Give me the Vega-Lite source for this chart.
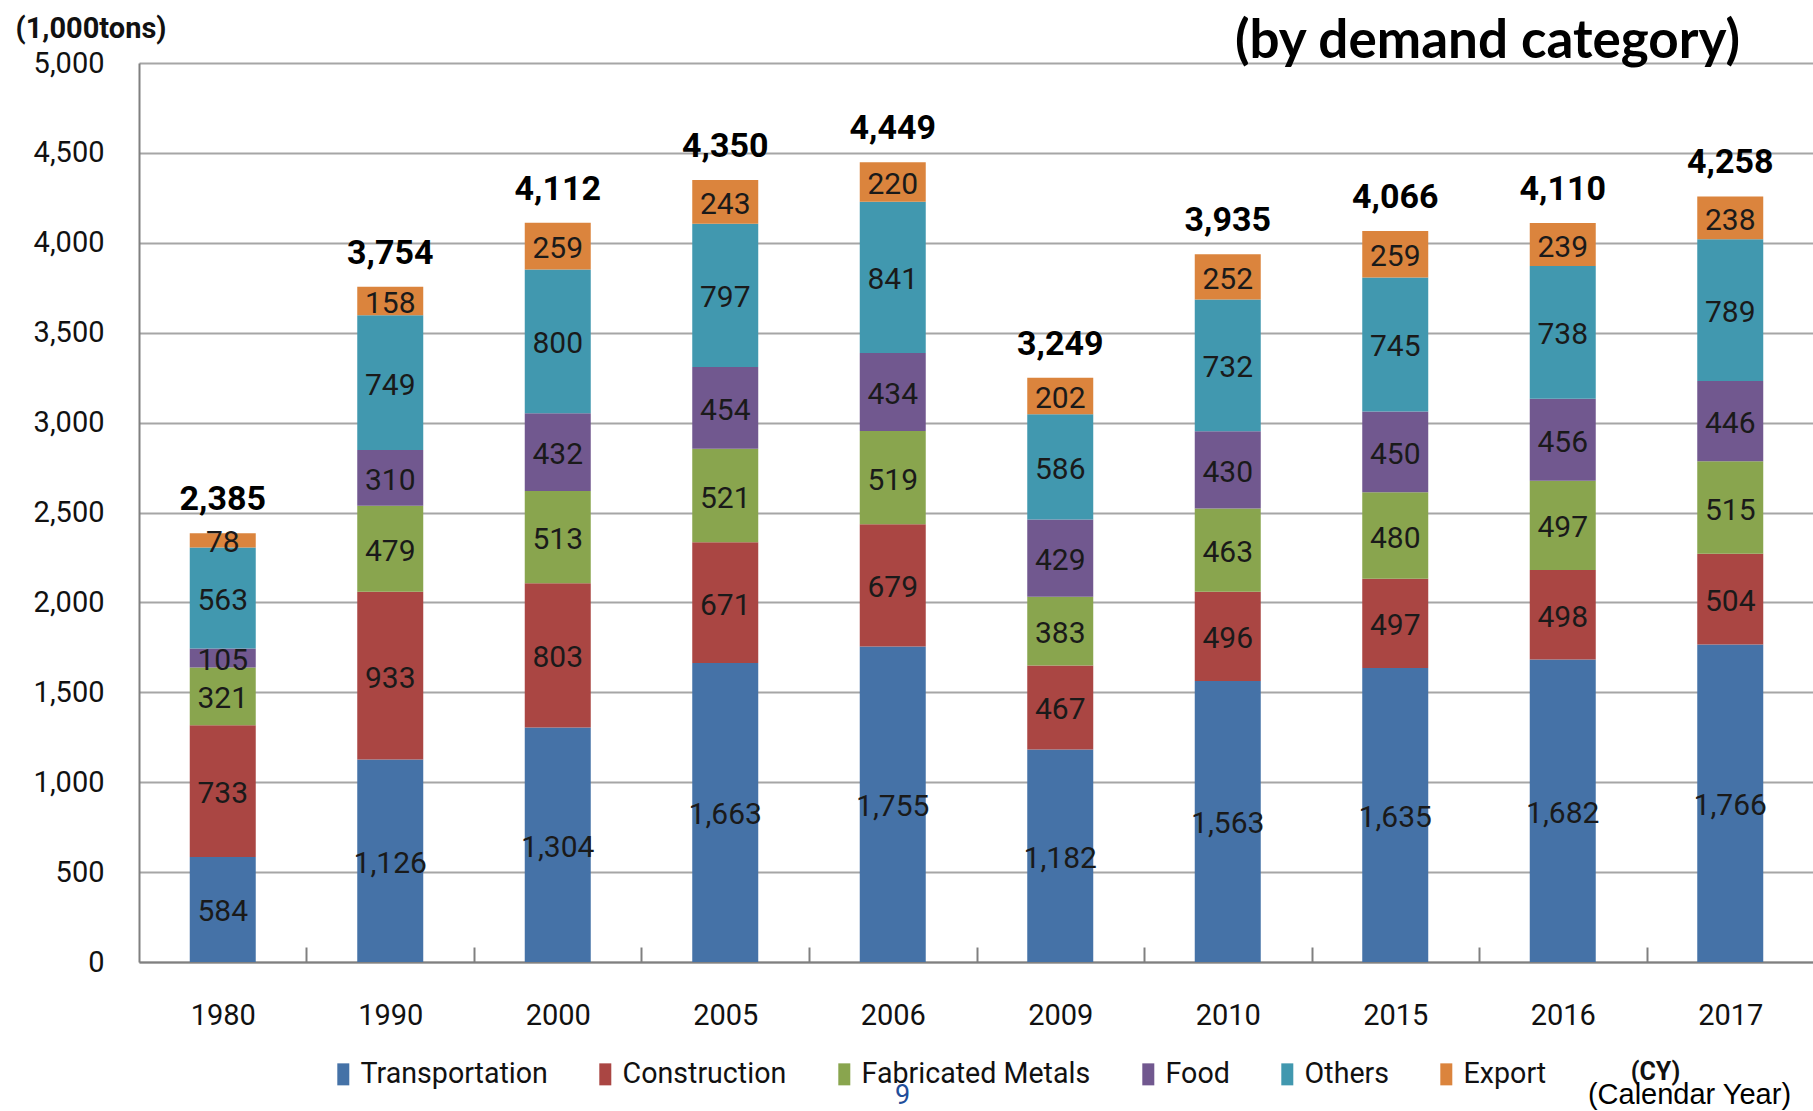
{
  "$schema": "https://vega.github.io/schema/vega-lite/v6.json",
  "width": 1675,
  "height": 899,
  "autosize": "none",
  "padding": {"left": 139, "top": 63, "right": 0, "bottom": 149},
  "background": "white",
  "title": {
    "text": "(by demand category)",
    "anchor": "start",
    "frame": "group",
    "dx": 1096,
    "offset": -97,
    "baseline": "alphabetic",
    "font": "Lato",
    "fontSize": 53,
    "fontWeight": "bold",
    "color": "#000000"
  },
  "datasets": {
    "segments": [
      {"year": "1980", "category": "Transportation", "kt": 584},
      {"year": "1980", "category": "Construction", "kt": 733},
      {"year": "1980", "category": "Fabricated Metals", "kt": 321},
      {"year": "1980", "category": "Food", "kt": 105},
      {"year": "1980", "category": "Others", "kt": 563},
      {"year": "1980", "category": "Export", "kt": 78},
      {"year": "1990", "category": "Transportation", "kt": 1126},
      {"year": "1990", "category": "Construction", "kt": 933},
      {"year": "1990", "category": "Fabricated Metals", "kt": 479},
      {"year": "1990", "category": "Food", "kt": 310},
      {"year": "1990", "category": "Others", "kt": 749},
      {"year": "1990", "category": "Export", "kt": 158},
      {"year": "2000", "category": "Transportation", "kt": 1304},
      {"year": "2000", "category": "Construction", "kt": 803},
      {"year": "2000", "category": "Fabricated Metals", "kt": 513},
      {"year": "2000", "category": "Food", "kt": 432},
      {"year": "2000", "category": "Others", "kt": 800},
      {"year": "2000", "category": "Export", "kt": 259},
      {"year": "2005", "category": "Transportation", "kt": 1663},
      {"year": "2005", "category": "Construction", "kt": 671},
      {"year": "2005", "category": "Fabricated Metals", "kt": 521},
      {"year": "2005", "category": "Food", "kt": 454},
      {"year": "2005", "category": "Others", "kt": 797},
      {"year": "2005", "category": "Export", "kt": 243},
      {"year": "2006", "category": "Transportation", "kt": 1755},
      {"year": "2006", "category": "Construction", "kt": 679},
      {"year": "2006", "category": "Fabricated Metals", "kt": 519},
      {"year": "2006", "category": "Food", "kt": 434},
      {"year": "2006", "category": "Others", "kt": 841},
      {"year": "2006", "category": "Export", "kt": 220},
      {"year": "2009", "category": "Transportation", "kt": 1182},
      {"year": "2009", "category": "Construction", "kt": 467},
      {"year": "2009", "category": "Fabricated Metals", "kt": 383},
      {"year": "2009", "category": "Food", "kt": 429},
      {"year": "2009", "category": "Others", "kt": 586},
      {"year": "2009", "category": "Export", "kt": 202},
      {"year": "2010", "category": "Transportation", "kt": 1563},
      {"year": "2010", "category": "Construction", "kt": 496},
      {"year": "2010", "category": "Fabricated Metals", "kt": 463},
      {"year": "2010", "category": "Food", "kt": 430},
      {"year": "2010", "category": "Others", "kt": 732},
      {"year": "2010", "category": "Export", "kt": 252},
      {"year": "2015", "category": "Transportation", "kt": 1635},
      {"year": "2015", "category": "Construction", "kt": 497},
      {"year": "2015", "category": "Fabricated Metals", "kt": 480},
      {"year": "2015", "category": "Food", "kt": 450},
      {"year": "2015", "category": "Others", "kt": 745},
      {"year": "2015", "category": "Export", "kt": 259},
      {"year": "2016", "category": "Transportation", "kt": 1682},
      {"year": "2016", "category": "Construction", "kt": 498},
      {"year": "2016", "category": "Fabricated Metals", "kt": 497},
      {"year": "2016", "category": "Food", "kt": 456},
      {"year": "2016", "category": "Others", "kt": 738},
      {"year": "2016", "category": "Export", "kt": 239},
      {"year": "2017", "category": "Transportation", "kt": 1766},
      {"year": "2017", "category": "Construction", "kt": 504},
      {"year": "2017", "category": "Fabricated Metals", "kt": 515},
      {"year": "2017", "category": "Food", "kt": 446},
      {"year": "2017", "category": "Others", "kt": 789},
      {"year": "2017", "category": "Export", "kt": 238}
    ],
    "totals": [
      {"year": "1980", "total": 2385},
      {"year": "1990", "total": 3754},
      {"year": "2000", "total": 4112},
      {"year": "2005", "total": 4350},
      {"year": "2006", "total": 4449},
      {"year": "2009", "total": 3249},
      {"year": "2010", "total": 3935},
      {"year": "2015", "total": 4066},
      {"year": "2016", "total": 4110},
      {"year": "2017", "total": 4258}
    ]
  },
  "layer": [
    {
      "data": {"name": "segments"},
      "transform": [
        {"stack": "kt", "groupby": ["year"], "as": ["lo", "hi"]}
      ],
      "mark": {"type": "bar"},
      "encoding": {
        "x": {
          "field": "year",
          "type": "nominal",
          "sort": null,
          "scale": {"paddingInner": 0.606, "paddingOuter": 0.303},
          "axis": {
            "orient": "bottom",
            "title": "(CY)",
            "titleX": 1516,
            "titleY": 109,
            "titleAlign": "center",
            "titleBaseline": "middle",
            "titleFont": "Roboto",
            "titleFontSize": 25,
            "titleFontWeight": "bold",
            "titleColor": "#111111",
            "labelAngle": 0,
            "labelFont": "Roboto",
            "labelFontSize": 29,
            "labelColor": "#111111",
            "labelBaseline": "middle",
            "labelPadding": 68,
            "labelOffset": -83.75,
            "ticks": true,
            "tickSize": -15,
            "tickOffset": 83.75,
            "tickColor": "#808080",
            "tickWidth": 2,
            "domainColor": "#808080",
            "domainWidth": 2,
            "grid": false
          }
        },
        "y": {
          "field": "lo",
          "type": "quantitative",
          "scale": {"domain": [0, 5000], "nice": false},
          "axis": {
            "orient": "left",
            "title": "(1,000tons)",
            "titleAngle": 0,
            "titleX": -124,
            "titleY": -35,
            "titleAlign": "left",
            "titleBaseline": "middle",
            "titleFont": "Roboto",
            "titleFontSize": 29,
            "titleFontWeight": "bold",
            "titleColor": "#111111",
            "values": [0, 500, 1000, 1500, 2000, 2500, 3000, 3500, 4000, 4500, 5000],
            "labelExpr": "format(datum.value, ',')",
            "labelFont": "Roboto",
            "labelFontSize": 29,
            "labelColor": "#111111",
            "labelPadding": 35,
            "ticks": false,
            "tickSize": 0,
            "grid": true,
            "gridColor": "#A6A6A6",
            "gridWidth": 2,
            "domainColor": "#808080",
            "domainWidth": 2
          }
        },
        "y2": {"field": "hi"},
        "color": {
          "field": "category",
          "type": "nominal",
          "scale": {
            "domain": ["Transportation", "Construction", "Fabricated Metals", "Food", "Others", "Export"],
            "range": ["#4572A7", "#AA4643", "#89A54E", "#71588F", "#4198AF", "#DB843D"]
          },
          "legend": {
            "orient": "none",
            "legendX": 190,
            "legendY": 997,
            "direction": "horizontal",
            "columns": 6,
            "columnPadding": 43,
            "title": null,
            "symbolType": "M-0.6,-1.1H0.6V1.1H-0.6Z",
            "symbolSize": 400,
            "symbolStrokeWidth": 0,
            "labelFont": "Roboto",
            "labelFontSize": 28.6,
            "labelOffset": 3,
            "labelColor": "#111111",
            "labelLimit": 400
          }
        }
      }
    },
    {
      "data": {"name": "segments"},
      "transform": [
        {"stack": "kt", "groupby": ["year"], "as": ["lo", "hi"]},
        {"fold": ["lo", "hi"], "as": ["edge", "pos"]}
      ],
      "mark": {
        "type": "text",
        "font": "Roboto",
        "fontSize": 30,
        "color": "#1a1a1a",
        "baseline": "middle",
        "align": "center",
        "dy": 3
      },
      "encoding": {
        "x": {"field": "year", "type": "nominal", "sort": null, "axis": null},
        "y": {
          "aggregate": "mean",
          "field": "pos",
          "type": "quantitative",
          "scale": {"domain": [0, 5000], "nice": false},
          "axis": {
            "orient": "right",
            "title": "9",
            "labels": false,
            "ticks": false,
            "domain": false,
            "grid": false,
            "titleAngle": 0,
            "titleX": -912,
            "titleY": 1032,
            "titleAlign": "center",
            "titleBaseline": "middle",
            "titleColor": "#1F4E9A",
            "titleFont": "Roboto",
            "titleFontSize": 27,
            "titleFontWeight": "normal"
          }
        },
        "detail": {"field": "category", "type": "nominal"},
        "text": {"field": "kt", "type": "quantitative", "format": ","}
      }
    },
    {
      "data": {"name": "totals"},
      "mark": {
        "type": "text",
        "font": "Roboto",
        "fontSize": 34,
        "fontWeight": "bold",
        "color": "#000000",
        "baseline": "alphabetic",
        "align": "center",
        "dy": -23
      },
      "encoding": {
        "x": {
          "field": "year",
          "type": "nominal",
          "sort": null,
          "axis": {
            "orient": "bottom",
            "title": "(Calendar Year)",
            "labels": false,
            "ticks": false,
            "domain": false,
            "grid": false,
            "titleX": 1550,
            "titleY": 141,
            "titleAlign": "center",
            "titleBaseline": "alphabetic",
            "titleFont": "Liberation Sans, Arial, sans-serif",
            "titleFontSize": 29,
            "titleFontWeight": "normal",
            "titleColor": "#000000"
          }
        },
        "y": {
          "field": "total",
          "type": "quantitative",
          "scale": {"domain": [0, 5000], "nice": false},
          "axis": null
        },
        "text": {"field": "total", "type": "quantitative", "format": ","}
      }
    }
  ],
  "resolve": {"axis": {"x": "independent", "y": "independent"}},
  "config": {
    "view": {"stroke": null}
  }
}
